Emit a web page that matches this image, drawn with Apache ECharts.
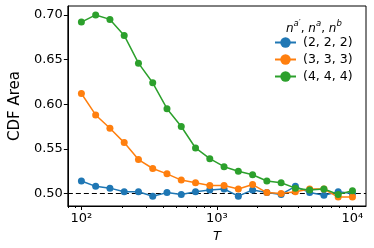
<!DOCTYPE html>
<html><head><meta charset="utf-8">
<script src="https://cdn.jsdelivr.net/npm/echarts@6/dist/echarts.min.js"></script>
<style>html,body{margin:0;padding:0;background:#fff}#c{width:374px;height:248px}</style>
</head><body><div id="c"></div>
<script>
var T = [100, 127.43, 162.38, 206.91, 263.67, 335.98, 428.13, 545.56, 695.19, 885.87,
         1128.84, 1438.45, 1832.98, 2335.72, 2976.35, 3792.69, 4832.93, 6158.48, 7847.60, 10000];
var seriesNames = ['(2, 2, 2)', '(3, 3, 3)', '(4, 4, 4)'];
var s222 = [0.514, 0.508, 0.506, 0.502, 0.502, 0.497, 0.501, 0.499, 0.502, 0.504,
            0.505, 0.497, 0.504, 0.501, 0.499, 0.508, 0.501, 0.498, 0.502, 0.500];
var s333 = [0.612, 0.588, 0.573, 0.557, 0.538, 0.528, 0.522, 0.515, 0.512, 0.509,
            0.509, 0.505, 0.510, 0.501, 0.500, 0.502, 0.505, 0.505, 0.496, 0.496];
var s444 = [0.692, 0.700, 0.695, 0.677, 0.646, 0.624, 0.595, 0.575, 0.551, 0.539,
            0.530, 0.525, 0.521, 0.514, 0.512, 0.506, 0.504, 0.505, 0.499, 0.503];
var xMajorTicks = [100, 1000, 10000];
var xMinorTicks = [80, 90, 200, 300, 400, 500, 600, 700, 800, 900,
                   2000, 3000, 4000, 5000, 6000, 7000, 8000, 9000];
var yTicks = [0.50, 0.55, 0.60, 0.65, 0.70];
var refLine = 0.5;

var colors = ['#1f77b4', '#ff7f0e', '#2ca02c'];
var FONT = 'DejaVu Sans';
var sup = {2: '\u00b2', 3: '\u00b3', 4: '\u2074'};
function pair(arr) { return T.map(function (t, i) { return [t, arr[i]]; }); }
var all = [s222, s333, s444];

var chart = echarts.init(document.getElementById('c'), null, {renderer: 'canvas'});
var xBase = {
  type: 'log', logBase: 10, min: 79.43, max: 12589.25,
  splitLine: {show: false}, minorTick: {show: false}
};
chart.setOption({
  animation: false,
  textStyle: {fontFamily: FONT},
  grid: {left: 59, top: 6, width: 307, height: 200, show: true, borderColor: '#000', borderWidth: 1, backgroundColor: 'transparent'},
  title: {
    text: '{i|n}{s|a\u2032}{c|, }{i|n}{s|a}{c|, }{i|n}{s|b}',
    left: 281, top: 14,
    textStyle: {
      fontWeight: 'normal',
      rich: {
        i: {fontFamily: FONT, fontStyle: 'italic', fontWeight: 'normal', fontSize: 12, color: '#000', verticalAlign: 'bottom', lineHeight: 16},
        c: {fontFamily: FONT, fontWeight: 'normal', fontSize: 12, color: '#000', verticalAlign: 'bottom', lineHeight: 16},
        s: {fontFamily: FONT, fontStyle: 'italic', fontWeight: 'normal', fontSize: 8.5, color: '#000', verticalAlign: 'top', lineHeight: 16}
      }
    }
  },
  legend: {
    orient: 'vertical', left: 269, top: 31, itemGap: 4, itemWidth: 21, itemHeight: 13,
    data: seriesNames,
    textStyle: {fontFamily: FONT, fontSize: 12.5, color: '#000', padding: [0, 0, 0, 2]}
  },
  xAxis: [
    Object.assign({}, xBase, {
      position: 'bottom',
      name: 'T', nameLocation: 'middle', nameGap: 20,
      nameTextStyle: {fontFamily: FONT, fontStyle: 'italic', fontSize: 13, color: '#000'},
      axisLine: {show: true, lineStyle: {color: '#000', width: 1}},
      axisTick: {show: true, length: 4, customValues: xMajorTicks, lineStyle: {color: '#000'}},
      axisLabel: {
        customValues: xMajorTicks, margin: 6, fontFamily: FONT, fontSize: 13, color: '#000',
        formatter: function (v) { var e = Math.round(Math.log10(v)); return '10' + sup[e]; }
      }
    }),
    Object.assign({}, xBase, {
      position: 'bottom',
      axisLine: {show: false},
      axisTick: {show: true, length: 2, customValues: xMinorTicks, lineStyle: {color: '#000'}},
      axisLabel: {show: false}
    })
  ],
  yAxis: {
    type: 'value', min: 0.486, max: 0.710,
    name: 'CDF Area', nameLocation: 'middle', nameGap: 39,
    nameTextStyle: {fontFamily: FONT, fontSize: 15, color: '#000'},
    splitLine: {show: false},
    axisLine: {show: true, lineStyle: {color: '#000', width: 1}},
    axisTick: {show: true, length: 4, customValues: yTicks, lineStyle: {color: '#000'}},
    axisLabel: {
      customValues: yTicks, margin: 5, fontFamily: FONT, fontSize: 13, color: '#000',
      formatter: function (v) { return v.toFixed(2); }
    }
  },
  series: seriesNames.map(function (n, k) {
    var s = {
      name: n, type: 'line', xAxisIndex: 0, data: pair(all[k]),
      symbol: 'circle', symbolSize: 7, showSymbol: true,
      itemStyle: {color: colors[k]},
      lineStyle: {color: colors[k], width: 1.5},
      z: 3 + k
    };
    if (k === 0) {
      s.markLine = {
        silent: true, symbol: 'none', label: {show: false},
        lineStyle: {color: '#000', type: [5, 3], width: 1.2},
        data: [{yAxis: refLine}],
        z: 2
      };
    }
    return s;
  })
});
</script></body></html>
